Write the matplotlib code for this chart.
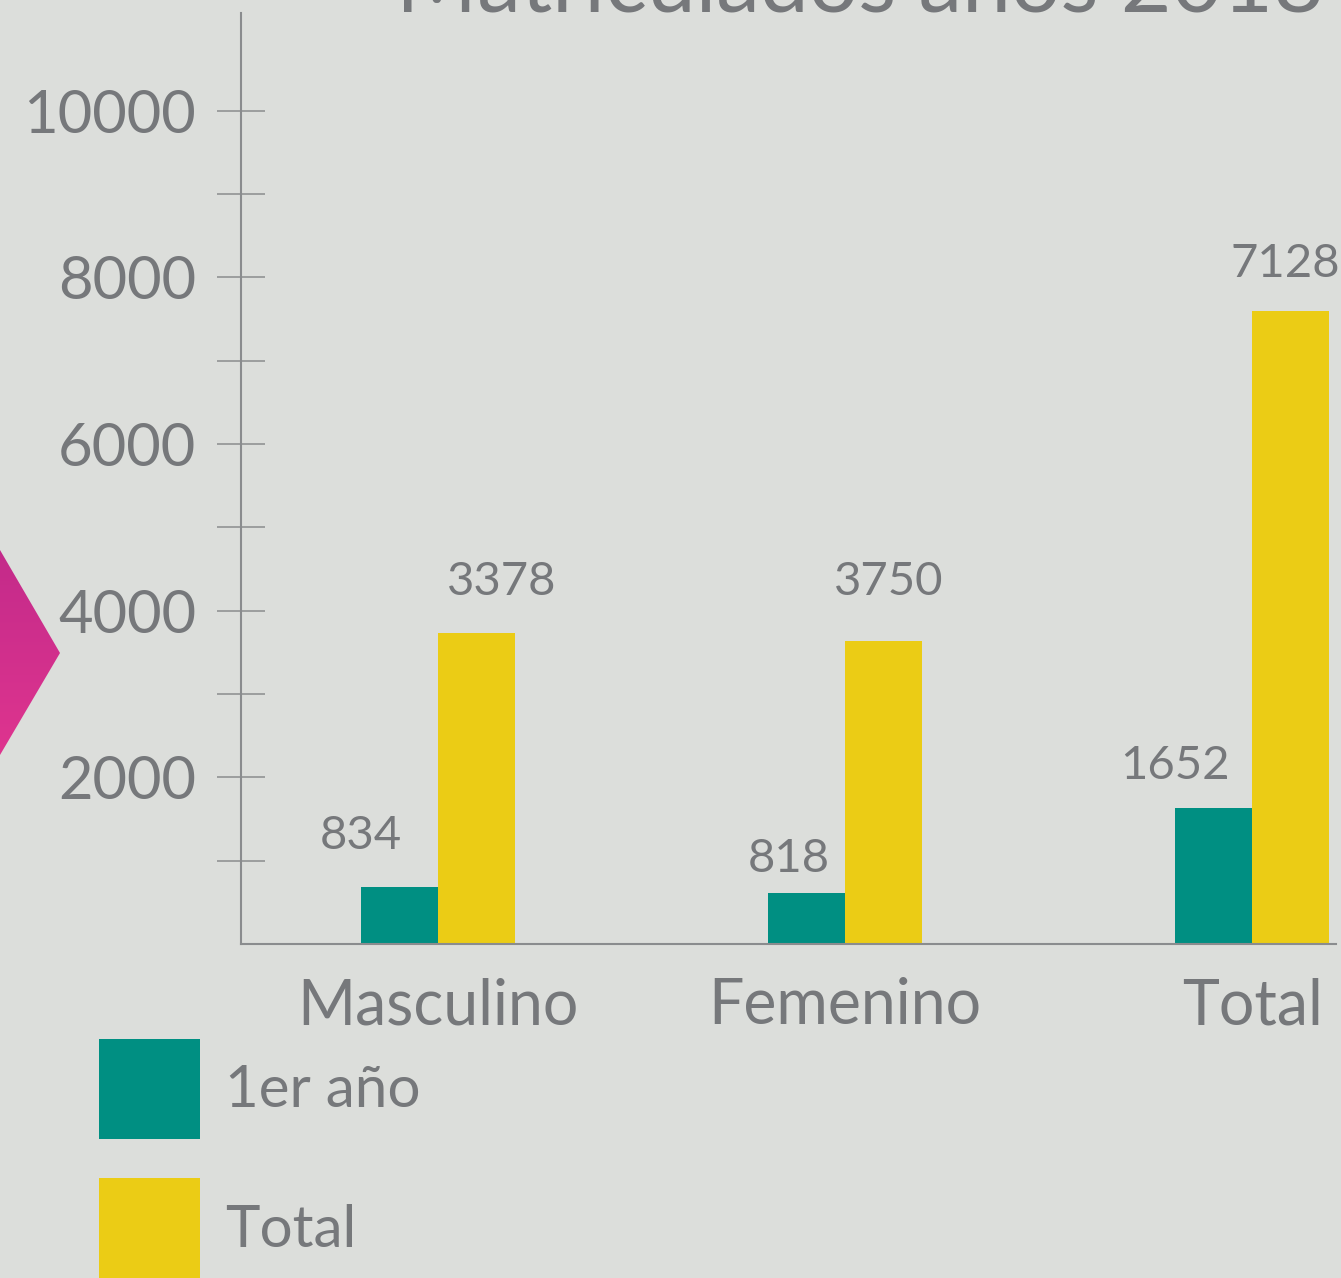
import numpy as np
import matplotlib
matplotlib.use("Agg")
import matplotlib.pyplot as plt
from matplotlib.patches import Polygon

# data
categorias = ["Masculino", "Femenino", "Total"]
primer_anio = [684, 612, 1632]
total = [3732, 3636, 7596]
etiquetas_primer = ["834", "818", "1652"]
etiquetas_total = ["3378", "3750", "7128"]
series = ["1er año", "Total"]

bg = "#dcdedb"
txt = "#76787b"
teal = "#008f82"
amarillo = "#ebcc15"
eje = "#8a8c8e"

plt.rcParams['font.family'] = ['Lato', 'DejaVu Sans']

W, H = 1341, 1278
fig = plt.figure(figsize=(W / 100, H / 100), dpi=100, facecolor=bg)

# background shape on the left (gradient arrow)
deco = fig.add_axes([0, 0, 1, 1], zorder=0)
deco.axis("off")
grad = np.linspace(0, 1, 256).reshape(-1, 1)
cmap = matplotlib.colors.LinearSegmentedColormap.from_list("mg", ["#e0358f", "#c22a8a"])
im = deco.imshow(grad, extent=(-10, 70, 540, 765), cmap=cmap, aspect="auto", origin="upper")
flecha = Polygon([(-10, 550), (0, 550), (60, 653), (0, 755), (-10, 755)], closed=True,
                 facecolor="none", edgecolor="none")
deco.add_patch(flecha)
im.set_clip_path(flecha)
deco.set_xlim(0, W)
deco.set_ylim(H, 0)

# main axes
ax = fig.add_axes([241 / W, (H - 944) / H, (1336 - 241) / W, (944 - 13) / H], zorder=1)
ax.patch.set_alpha(0)

x = np.arange(len(categorias))
w = 0.19
b1 = ax.bar(x - w / 2, primer_anio, w, color=teal, label=series[0])
b2 = ax.bar(x + w / 2, total, w, color=amarillo, label=series[1])

ax.set_xlim(-0.484, 2.206)
ax.set_ylim(0, 11172)

for s in ["top", "right"]:
    ax.spines[s].set_visible(False)
for s in ["left", "bottom"]:
    ax.spines[s].set_color(eje)
    ax.spines[s].set_linewidth(1.5)

ax.set_yticks(np.arange(2000, 10001, 2000))
ax.set_yticks(np.arange(1000, 9001, 2000), minor=True)
ax.tick_params(axis="y", which="both", direction="inout", length=34.5, width=1.1,
               color=eje, labelsize=43, labelcolor=txt, pad=15)
ax.tick_params(axis="y", which="minor", labelleft=False)
ax.set_xticks(x)
ax.set_xticklabels(categorias)
ax.tick_params(axis="x", length=0, labelsize=45, labelcolor=txt, pad=24)

# value labels (offsets in pixels from top centre of each bar)
off_primer = [(-39, 38), (-18, 21), (-39, 29)]
off_total = [(25, 38), (5, 46), (-6, 34)]
for bars, labs, offs in [(b1, etiquetas_primer, off_primer), (b2, etiquetas_total, off_total)]:
    for r, lab, (dx, dy) in zip(bars, labs, offs):
        ax.annotate(lab, (r.get_x() + r.get_width() / 2, r.get_height()),
                    xytext=(dx, dy), textcoords="offset pixels",
                    ha="center", va="baseline", fontsize=34, color=txt)

# title, mostly cut off at the top
fig.text(860 / W, (H - 12) / H, "Matriculados años 2018", ha="center", va="baseline",
         fontsize=63, color=txt)

fig.legend(handles=[b1, b2], labels=series, loc="upper left",
           bbox_to_anchor=(99 / W, 1 - 1039 / H), frameon=False, fontsize=42,
           labelcolor=txt, handlelength=1.73, handleheight=2.27, labelspacing=0.67,
           handletextpad=0.43, borderpad=0, borderaxespad=0)

fig.savefig("out.png", dpi=100, facecolor=bg)
